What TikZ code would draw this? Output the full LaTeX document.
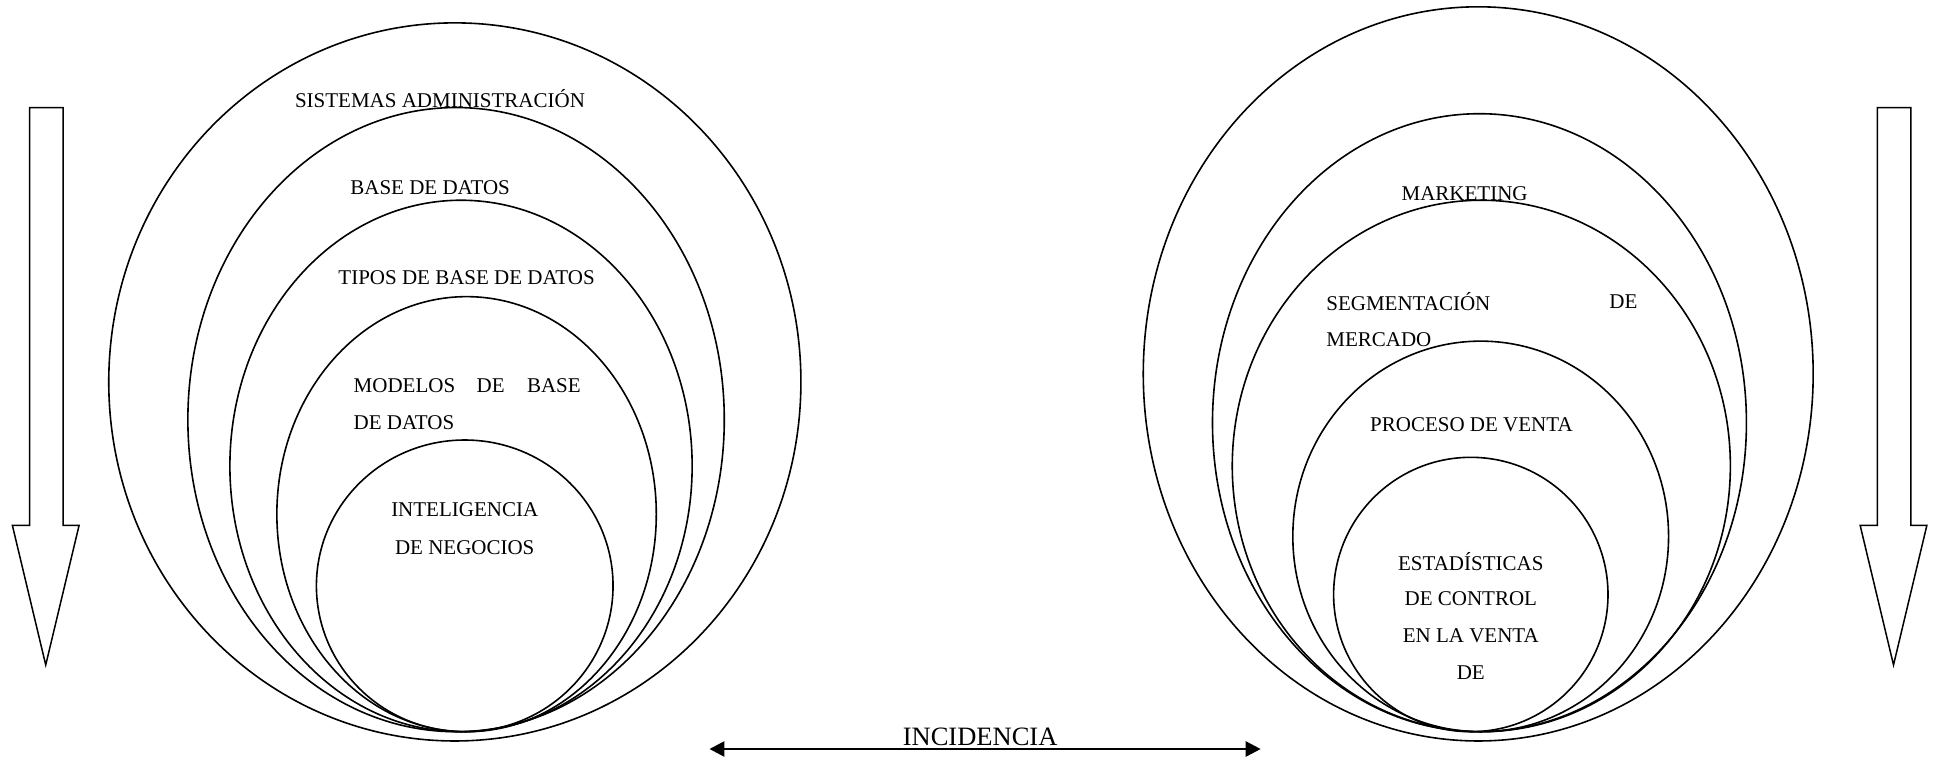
\documentclass[tikz,border=0pt]{standalone}
\usepackage{fontspec}
\setmainfont{Liberation Serif}
\usetikzlibrary{shapes.geometric,arrows.meta}
\tikzset{
  ring/.style 2 args={ellipse, draw, line width=1.6pt, inner sep=0pt, outer sep=0pt,
    minimum width=#1*2.472pt, minimum height=#2*2.472pt},
  lbl/.style={font=\fontsize{21}{25}\selectfont, inner sep=0pt, anchor=center},
  bigarrow/.style={draw, line width=1.5pt, line join=miter, fill=white},
}
\begin{document}
\begin{tikzpicture}[x=1.236pt,y=-1.236pt]
\useasboundingbox (0,0) rectangle (1568,615);
% left rings
\node[ring={280}{290.5}] (L1) at (368,309) {};
\node[ring={217}{252.5}] (L2) at (369,339.5) {};
\node[ring={187}{215}] (L3) at (373,377) {};
\node[ring={153.5}{176}] (L4) at (377.5,416) {};
\node[ring={120}{118}] (L5) at (376,474) {};
% right rings
\node[ring={271}{297}] (R1) at (1196,302.5) {};
\node[ring={216}{250}] (R2) at (1197,342) {};
\node[ring={201.5}{215}] (R3) at (1198.5,377) {};
\node[ring={152}{158}] (R4) at (1198,434) {};
\node[ring={111}{111}] (R5) at (1190,481) {};
% left texts
\node[lbl] (t1) at (356,80) {SISTEMAS ADMINISTRACIÓN};
\node[lbl] (t2) at (348,152) {BASE DE DATOS};
\node[lbl] (t3) at (377.5,225) {TIPOS DE BASE DE DATOS};
\node[lbl, anchor=west] (t4a) at (286,312) {MODELOS};
\node[lbl] (t4b) at (397,312) {DE};
\node[lbl, anchor=east] (t4c) at (470,312) {BASE};
\node[lbl, anchor=west] (t4d) at (286,342) {DE DATOS};
\node[lbl] (t5a) at (376,412) {INTELIGENCIA};
\node[lbl] (t5b) at (376,443) {DE NEGOCIOS};
% right texts
\node[lbl] (r1) at (1185,157) {MARKETING};
\node[lbl, anchor=west] (r2a) at (1073,244) {SEGMENTACIÓN};
\node[lbl, anchor=east] (r2b) at (1325,244) {DE};
\node[lbl, anchor=west] (r2c) at (1073,275) {MERCADO};
\node[lbl] (r3) at (1190.5,344) {PROCESO DE VENTA};
\node[lbl] (r4a) at (1190,454) {ESTADÍSTICAS};
\node[lbl] (r4b) at (1190,484) {DE CONTROL};
\node[lbl] (r4c) at (1190,514) {EN LA VENTA};
\node[lbl] (r4d) at (1190,544) {DE};
% block arrows
\draw[bigarrow] (24,87) -- (51,87) -- (51,425) -- (64,425) -- (37,538) -- (10,425) -- (24,425) -- cycle;
\draw[bigarrow] (1519,87) -- (1546,87) -- (1546,425) -- (1559,425) -- (1532,538) -- (1505,425) -- (1519,425) -- cycle;
% bottom arrow
\coordinate (ba) at (574,606);
\coordinate (bb) at (1020,606);
\draw[line width=2.6pt, {Triangle[length=15pt,width=15pt]}-{Triangle[length=15pt,width=15pt]}] (ba) -- (bb);
\node[font=\fontsize{26.5}{30}\selectfont, inner sep=0pt] (inc) at (793,596) {INCIDENCIA};
\end{tikzpicture}
\end{document}
